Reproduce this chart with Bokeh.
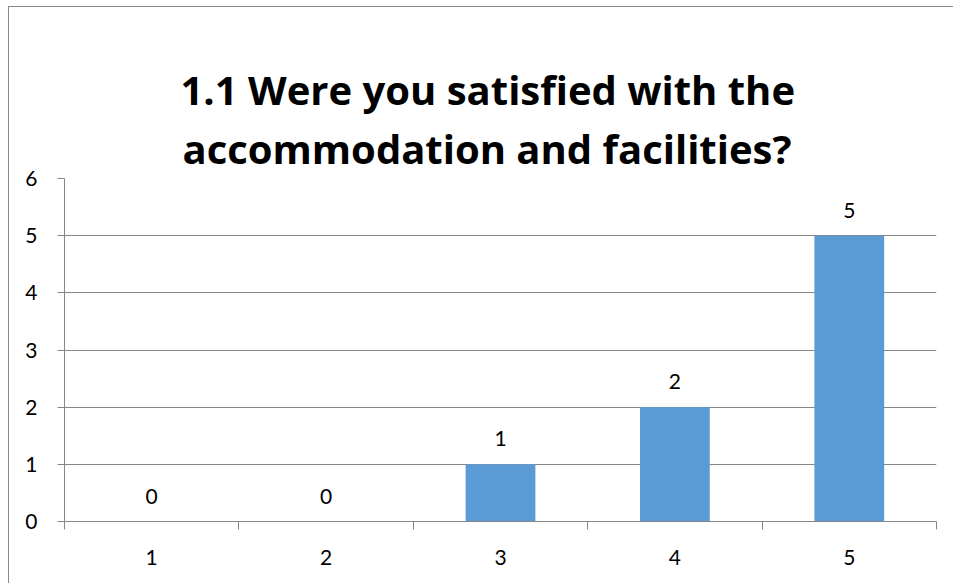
from bokeh.plotting import figure
from bokeh.models import ColumnDataSource, FixedTicker, LabelSet, Title, Range1d
from bokeh.core.properties import value
from bokeh.embed import file_html
from bokeh.resources import INLINE

categories = [1, 2, 3, 4, 5]
counts = [0, 0, 1, 2, 5]
y_ticks = [0, 1, 2, 3, 4, 5, 6]
title_line1 = "1.1 Were you satisfied with the"
title_line2 = "accommodation and facilities?"

TFONT = "Open Sans"
FONT = "Lato"
GRID = "#868686"
BAR = "#5B9BD5"

src = ColumnDataSource(dict(x=categories, y=counts, lab=[str(c) for c in counts]))

p = figure(width=945, height=577, output_backend="svg", toolbar_location=None,
           x_range=Range1d(0.5, 5.5), y_range=Range1d(0, 6),
           min_border_left=55, min_border_right=18, min_border_bottom=63, min_border_top=171)
# outermost: invisible spacer title
p.title.text = "."
p.title.text_font_size = "1px"
p.title.text_alpha = 0
p.title.standoff = 14

# titles added later are stacked above earlier ones
t2 = Title(text=title_line2, text_font=TFONT, text_font_size="40px", text_font_style="bold",
           text_color="black", align="left", offset=118, standoff=5)
p.add_layout(t2, "above")
t1 = Title(text=title_line1, text_font=TFONT, text_font_size="40px", text_font_style="bold",
           text_color="black", align="left", offset=116, standoff=0)
p.add_layout(t1, "above")

p.vbar(x="x", top="y", width=0.4, source=src, fill_color=BAR, line_color=None)
labels = LabelSet(x="x", y="y", text="lab", source=src, text_align="center",
                  text_baseline="alphabetic", y_offset=18, text_font=value(FONT),
                  text_font_size="21px", text_color="black")
p.add_layout(labels)

p.outline_line_color = None
p.xgrid.grid_line_color = None
p.ygrid.grid_line_color = GRID
p.ygrid.ticker = FixedTicker(ticks=y_ticks)

p.yaxis.ticker = FixedTicker(ticks=y_ticks)
p.yaxis.axis_line_color = GRID
p.yaxis.major_tick_line_color = GRID
p.yaxis.major_tick_out = 7
p.yaxis.major_tick_in = 0
p.yaxis.minor_tick_line_color = None
p.yaxis.major_label_standoff = 20
p.yaxis.major_label_text_font = FONT
p.yaxis.major_label_text_font_size = "21px"
p.yaxis.major_label_text_color = "black"

p.xaxis.ticker = FixedTicker(ticks=categories, minor_ticks=[0.5, 1.5, 2.5, 3.5, 4.5, 5.5])
p.xaxis.axis_line_color = GRID
p.xaxis.major_tick_out = 0
p.xaxis.major_tick_in = 0
p.xaxis.minor_tick_line_color = GRID
p.xaxis.minor_tick_out = 8
p.xaxis.minor_tick_in = 0
p.xaxis.major_label_standoff = 20
p.xaxis.major_label_text_font = FONT
p.xaxis.major_label_text_font_size = "21px"
p.xaxis.major_label_text_color = "black"

p.styles = {"margin-left": "8px", "margin-top": "6px",
            "border-left": "1px solid #888888", "border-top": "1px solid #888888"}

open("out.html", "w").write(file_html(p, INLINE))
